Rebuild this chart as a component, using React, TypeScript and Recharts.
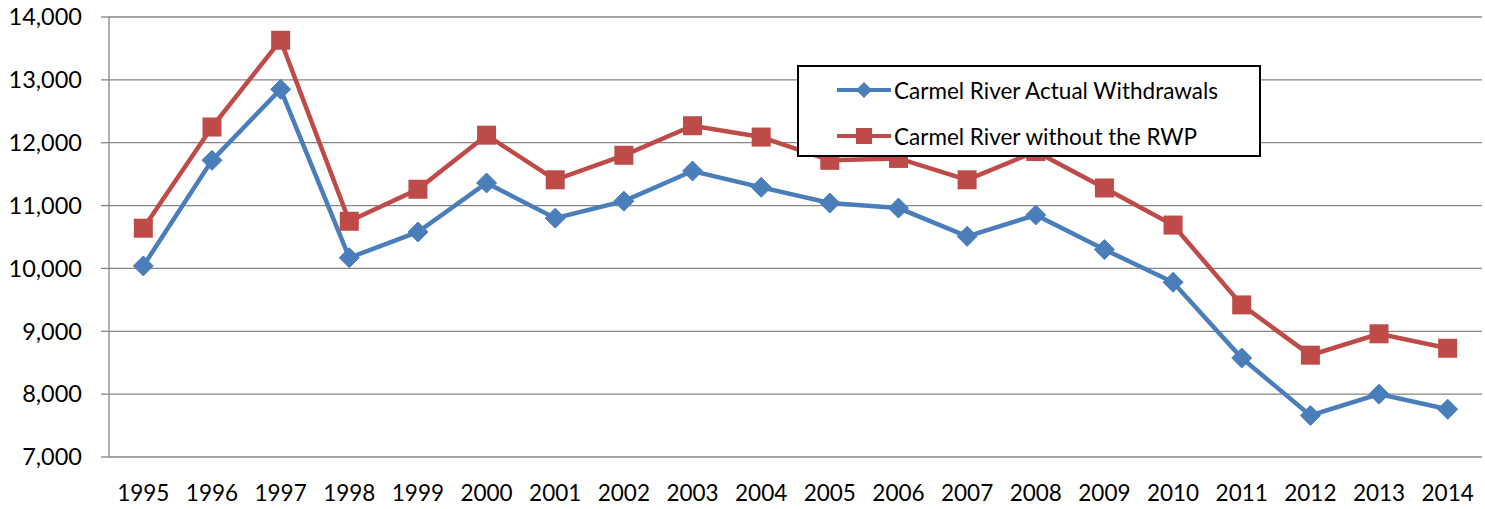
import { LineChart, Line, XAxis, YAxis, CartesianGrid } from 'recharts';

const years = [
  '1995', '1996', '1997', '1998', '1999', '2000', '2001', '2002', '2003', '2004',
  '2005', '2006', '2007', '2008', '2009', '2010', '2011', '2012', '2013', '2014',
];

const actualWithdrawals = [
  10040, 11720, 12850, 10170, 10580, 11360, 10800, 11070, 11550, 11290,
  11040, 10960, 10510, 10850, 10300, 9780, 8575, 7660, 8000, 7760,
];

const withoutRwp = [
  10640, 12250, 13630, 10750, 11260, 12120, 11410, 11800, 12270, 12090,
  11720, 11750, 11410, 11860, 11280, 10690, 9420, 8620, 8960, 8730,
];

const yTicks = [7000, 8000, 9000, 10000, 11000, 12000, 13000, 14000];

const BLUE = '#4A7EBB';
const RED = '#BE4B48';
const AXIS = '#868686';
const FONT = 'Lato, "Open Sans", sans-serif';

const data = years.map((year, i) => ({
  i,
  year,
  actual: actualWithdrawals[i],
  noRwp: withoutRwp[i],
}));

const labelTicks = years.map((_, i) => i);
const markTicks = [...years.map((_, i) => i - 0.5), years.length - 0.5];

function Diamond(props: any) {
  const { cx, cy } = props;
  if (cx == null || cy == null) return null;
  const r = 10;
  return (
    <path
      d={`M${cx},${cy - r} L${cx + r},${cy} L${cx},${cy + r} L${cx - r},${cy} Z`}
      fill={BLUE}
      stroke={BLUE}
    />
  );
}

function Square(props: any) {
  const { cx, cy } = props;
  if (cx == null || cy == null) return null;
  const s = 19;
  return <rect x={cx - s / 2} y={cy - s / 2} width={s} height={s} fill={RED} />;
}

function LegendBox() {
  const row = { display: 'flex', alignItems: 'center', height: 46 };
  return (
    <div
      style={{
        position: 'absolute',
        left: 797,
        top: 65,
        width: 460,
        height: 88,
        border: '2px solid #000',
        background: '#fff',
        fontFamily: FONT,
        fontSize: 22.5,
        color: '#000',
      }}
    >
      <div style={row}>
        <svg width={96} height={24} style={{ marginLeft: 36 }}>
          <line x1={2} y1={12} x2={56} y2={12} stroke={BLUE} strokeWidth={4} />
          <path d="M29,4 L37,12 L29,20 L21,12 Z" fill={BLUE} />
        </svg>
        <span style={{ marginLeft: -37 }}>Carmel River Actual Withdrawals</span>
      </div>
      <div style={row}>
        <svg width={96} height={24} style={{ marginLeft: 36 }}>
          <line x1={2} y1={12} x2={56} y2={12} stroke={RED} strokeWidth={4} />
          <rect x={21} y={4} width={16} height={16} fill={RED} />
        </svg>
        <span style={{ marginLeft: -37 }}>Carmel River without the RWP</span>
      </div>
    </div>
  );
}

export default function App() {
  return (
    <div
      style={{
        position: 'absolute',
        left: 0,
        top: 0,
        width: 1485,
        height: 509,
        background: '#fff',
      }}
    >
      <LineChart
        width={1485}
        height={509}
        data={data}
        margin={{ top: 17, right: 3, left: 0, bottom: 0 }}
      >
        <CartesianGrid
          xAxisId="labels"
          vertical={false}
          stroke={AXIS}
          strokeWidth={1.3}
        />
        <XAxis
          xAxisId="marks"
          type="number"
          dataKey="i"
          domain={[-0.5, years.length - 0.5]}
          ticks={markTicks}
          tick={false}
          tickSize={7}
          height={0}
          stroke={AXIS}
          strokeWidth={1.3}
        />
        <XAxis
          xAxisId="labels"
          type="number"
          dataKey="i"
          domain={[-0.5, years.length - 0.5]}
          ticks={labelTicks}
          interval={0}
          tickFormatter={(v: number) => years[v] ?? ''}
          axisLine={false}
          tickLine={false}
          tickMargin={22}
          height={52}
          tick={{ fill: '#000', fontSize: 22.5, fontFamily: FONT }}
        />
        <YAxis
          domain={[7000, 14000]}
          ticks={yTicks}
          interval={0}
          width={109}
          tickSize={8}
          tickMargin={19}
          tickFormatter={(v: number) => v.toLocaleString('en-US')}
          stroke={AXIS}
          strokeWidth={1.3}
          tick={{ fill: '#000', fontSize: 23.5, fontFamily: FONT }}
        />
        <Line
          xAxisId="labels"
          dataKey="actual"
          stroke={BLUE}
          strokeWidth={4.5}
          dot={<Diamond />}
          activeDot={false}
          isAnimationActive={false}
        />
        <Line
          xAxisId="labels"
          dataKey="noRwp"
          stroke={RED}
          strokeWidth={4.5}
          dot={<Square />}
          activeDot={false}
          isAnimationActive={false}
        />
      </LineChart>
      <LegendBox />
    </div>
  );
}
